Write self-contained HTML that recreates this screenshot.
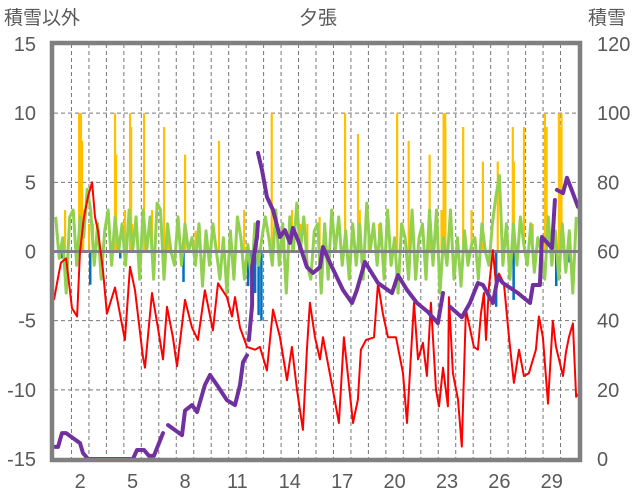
<!DOCTYPE html>
<html><head><meta charset="utf-8"><style>
html,body{margin:0;padding:0;background:#fff;width:636px;height:501px;overflow:hidden}
svg{display:block;font-family:"Liberation Sans","Noto Sans CJK JP",sans-serif}
</style></head><body>
<svg id="chart" width="636" height="501" viewBox="0 0 636 501"></svg>
<script>
// ---- data ----
const dayLabels = [2,5,8,11,14,17,20,23,26,29];
const leftTicks = [15,10,5,0,-5,-10,-15];
const rightTicks = [120,100,80,60,40,20,0];
// temperature (red): time in days, value
const tempT = [0,0.23,0.4,0.69,1.03,1.32,1.49,1.72,1.95,2.18,2.35,2.52,2.8,3.03,3.49,4.06,4.35,4.64,5.09,5.21,5.61,5.95,6.24,6.47,6.81,7.04,7.5,7.9,8.24,8.64,9.1,9.39,9.9,10.19,10.36,10.65,11.05,11.51,11.79,12.19,12.54,12.94,13.34,13.62,13.91,14.25,14.48,14.65,14.94,15.23,15.4,15.97,16.31,16.6,16.83,17.12,17.4,17.57,17.86,18.32,18.55,18.83,19.12,19.58,19.98,20.21,20.61,20.84,21.12,21.35,21.58,21.87,22.04,22.27,22.55,22.61,22.84,23.13,23.35,23.58,23.87,24.04,24.27,24.44,24.61,24.73,24.9,25.13,25.3,25.47,25.76,26.05,26.33,26.62,26.9,27.19,27.59,27.76,27.99,28.28,28.56,28.74,29.14,29.31,29.48,29.71,29.89,30];
const tempV = [-3.5,-1.9,-0.8,-0.5,-4.1,-4.7,0,2.5,4,5,2.5,1.5,-1.3,-4.5,-2.6,-6.4,-1.1,-2.8,-7.6,-8.4,-3,-5.5,-7.8,-4,-6.2,-8.3,-3.5,-5.5,-6.4,-2.8,-5.7,-2.3,-3.3,-4.7,-3.3,-5.5,-6.9,-7.1,-6.9,-8.6,-4.2,-6.2,-9.3,-6.9,-10,-12.9,-7.1,-3.7,-6.2,-7.8,-6.2,-10,-12.4,-6.2,-9,-12.4,-10.7,-7.1,-6.4,-6.2,-2.3,-4.5,-6.2,-6.2,-8.8,-12.4,-3.7,-7.8,-6.6,-9,-3.7,-10,-11.2,-8.4,-11.2,-3.3,-8.8,-10.7,-14.1,-4.2,-5.9,-6.9,-7.1,-4.5,-3,-6.4,-2.6,0.1,-2.3,-1.6,-2.3,-6.2,-9.5,-7.1,-9,-8.8,-7.1,-4.7,-6.2,-11,-5,-6.9,-9,-7.3,-6.2,-5.2,-10.5,-10.3];
// snow depth (purple, right axis); null = gap
const snowT = [0,0.23,0.46,0.69,1.49,1.66,1.95,4.52,4.75,5.15,5.44,5.72,6.24,null,6.53,7.33,7.5,7.9,8.19,8.64,8.93,9.33,9.9,10.36,10.65,10.82,11.05,null,11.16,11.34,11.34,11.62,11.68,null,11.68,11.91,12.19,12.54,12.94,13.22,13.51,13.68,13.97,14.48,14.83,15.23,15.4,15.8,16.54,17.06,17.34,17.8,18.55,19.35,19.69,20.21,20.78,21.41,21.98,22.27,null,22.67,23.35,23.81,24.27,24.56,25.13,25.41,25.7,26.56,27.25,27.42,27.82,27.94,28.51,28.68,null,28.79,29.14,29.37,29.71,30];
const snowV = [3.5,3.5,7.5,7.5,4.6,1.7,0,0,2.6,2.6,0.9,0.9,7.5,null,9.8,6.9,14,15.6,13.6,21.4,24.3,21.4,17,15.6,21.4,28,30,null,34.4,44.5,55.5,64.2,68.5,null,88.5,83.6,75.8,72,64.2,66.2,62.5,66.8,63.3,55.5,53.8,55.5,61.3,56.7,48.9,45.1,48.9,57,50.9,48,53.2,48.9,45.1,42.5,39.3,48,null,44,41,45.1,50.9,50.3,45.1,52.6,50.9,48,45.1,50.3,50.3,64.2,61,74.9,null,77.8,76.9,81.3,76.9,72.9];
// wind/other (green): 5 samples per day
const greenV = [2.5,-0.5,1,-3,2.5, 3,-1,2.5,1,4.5, 3,-1,2,-2,1.5, 3,-1,2.5,0,2, -1,3,0,2.5,-2, 3,0,2.5,-2,3.5, 3,-2,2,0,-1, 2.5,-1,2,0,1, -1,2,-2.5,1.5,-1, 2,0,-2,1,-3, 1.5,-2,2.5,1,-2, 0.5,-2,2,-1,1, 2.5,1,-1,3,-1, 2,-3,2.5,0,3.5, 0,2.5,-1,-2,1.5, 2,-3,2,-2,3, 0,2.5,-1,1.5,-2, 2,-1,2,-2,3.5, 0,2,-1,2,-2, 3,-1,1,-3,2, 1,-2,3,-2,1, 2,-2,3,-1,3, -3,1,-1,3,-2, 1,-2.5,1.5,-1,0.5, 1,-2,2,0,-1, 2,4,5.5,-1,2, -2,2,-1,2.5,0.5, -1,2,-1.5,1,0, -2,2.5,-1,1.5,-2, 2,-1.5,1.5,-3,2.5];
// precipitation (orange): time in days, value
const precT = [0.63,1.43,1.54,1.6,1.66,2.0,2.23,3.49,3.55,4.06,4.35,4.41,4.47,5.15,5.61,6.3,6.53,7.5,8.1,9.44,10.88,12.46,13.1,13.62,14.1,14.5,15.2,16.66,17.4,17.5,18.0,18.6,19.64,20.3,21.5,21.55,22.18,22.3,22.39,22.4,23.42,23.9,24.55,25.4,26.26,26.32,26.9,27.4,28.1,28.2,28.9,29.0,29.05];
const precV = [3,10,10,8,3,2,2,10,7,3,10,9,2,10,3,9,2,7,1.5,8,3,10,2,3,2,2,2.5,10,8.5,3,2,2,10,8,7,2,3,10,10,9,9,3,6.5,6.5,9,6.5,9,2,10,9,10,9,10];
// negative bars (blue)
const blueT = [0.46,2.06,3.78,7.4,11.1,11.3,11.5,11.7,11.86,17.6,25.3,26.3,28.74,29.5];
const blueV = [-0.5,-2.4,-0.5,-2.2,-2.5,-3.6,-3,-4.6,-5,-0.8,-4,-3.5,-2.5,-0.8];

// ---- axes ----
const X0=54, X1=578, Y0=44, Y1=459;
const xs = t => X0 + (X1-X0)*t/30;
const yL = v => Y1 - (v+15)*(Y1-Y0)/30;
const yR = v => Y1 - v*(Y1-Y0)/120;
const svg = document.getElementById('chart');
const NS='http://www.w3.org/2000/svg';
function mk(tag, attrs, parent){const e=document.createElementNS(NS,tag);for(const k in attrs)e.setAttribute(k,attrs[k]);(parent||svg).appendChild(e);return e;}

// gridlines
const grid = mk('g',{});


[10,5,-5,-10].forEach(v=>mk('line',{x1:X0,x2:X1,y1:yL(v),y2:yL(v),stroke:'#777','stroke-width':1,'stroke-dasharray':'4,3'},grid));
for(let k=1;k<30;k++) mk('line',{x1:xs(k),x2:xs(k),y1:Y0,y2:Y1,stroke:'#777','stroke-width':1,'stroke-dasharray':'4,3'},grid);

// precipitation bars
const pg = mk('g',{});


precT.forEach((t,i)=>{const v=Math.min(precV[i],10);const r=mk('rect',{x:xs(t)-1,y:yL(v),width:2.2,height:yL(0)-yL(v),fill:'#ffc000'},pg);

});

// blue bars
const bg = mk('g',{});


blueT.forEach((t,i)=>{const r=mk('rect',{x:xs(t)-1,y:yL(0),width:2.5,height:yL(blueV[i])-yL(0),fill:'#0070c0'},bg);

});

// green line
let gp='';
greenV.forEach((v,i)=>{gp+=(i?'L':'M')+xs((i+0.5)/5).toFixed(1)+' '+yL(v).toFixed(1);});
const gl=mk('path',{d:gp,fill:'none',stroke:'#92d050','stroke-width':3,'stroke-linejoin':'round'});



// zero line
const zl=mk('line',{x1:X0,x2:X1,y1:yL(0),y2:yL(0),stroke:'#808080','stroke-width':3});



// temperature line
let tp='';
tempT.forEach((t,i)=>{tp+=(i?'L':'M')+xs(t).toFixed(1)+' '+yL(tempV[i]).toFixed(1);});
const tl=mk('path',{d:tp,fill:'none',stroke:'#ff0000','stroke-width':2,'stroke-linejoin':'round'});



// snow depth
let sp='',pen=false;
snowT.forEach((t,i)=>{if(t===null){pen=false;return;}sp+=(pen?'L':'M')+xs(t).toFixed(1)+' '+yR(snowV[i]).toFixed(1);pen=true;});
const sl=mk('path',{d:sp,fill:'none',stroke:'#7030a0','stroke-width':4,'stroke-linejoin':'round','stroke-linecap':'round'});



// frame
const fr=mk('path',{d:`M${X0-2} ${Y1+1}V${Y0-1}H${X1+2}V${Y1+1}Z`,fill:'none',stroke:'#808080','stroke-width':4.5});



// tick labels
const txtStyle={fill:'#595959','font-size':20};
leftTicks.forEach(v=>{const e=mk('text',Object.assign({x:36,y:yL(v)+7,'text-anchor':'end'},txtStyle));e.textContent=v;

});
rightTicks.forEach(v=>{const e=mk('text',Object.assign({x:597,y:yR(v)+7,'text-anchor':'start'},txtStyle));e.textContent=v;

});
dayLabels.forEach(d=>{const e=mk('text',Object.assign({x:xs(d-0.5),y:488,'text-anchor':'middle'},txtStyle));e.textContent=d;

});
</script>
<svg style="position:absolute;left:0;top:0" width="636" height="40">
<text x="4" y="24" font-size="19" fill="#595959" font-family="Liberation Sans, Noto Sans CJK JP, sans-serif">積雪以外</text>
<text x="318" y="24" font-size="19" fill="#595959" text-anchor="middle" font-family="Liberation Sans, Noto Sans CJK JP, sans-serif">夕張</text>
<text x="588" y="24" font-size="19" fill="#595959" font-family="Liberation Sans, Noto Sans CJK JP, sans-serif">積雪</text>
</svg>
</body></html>
